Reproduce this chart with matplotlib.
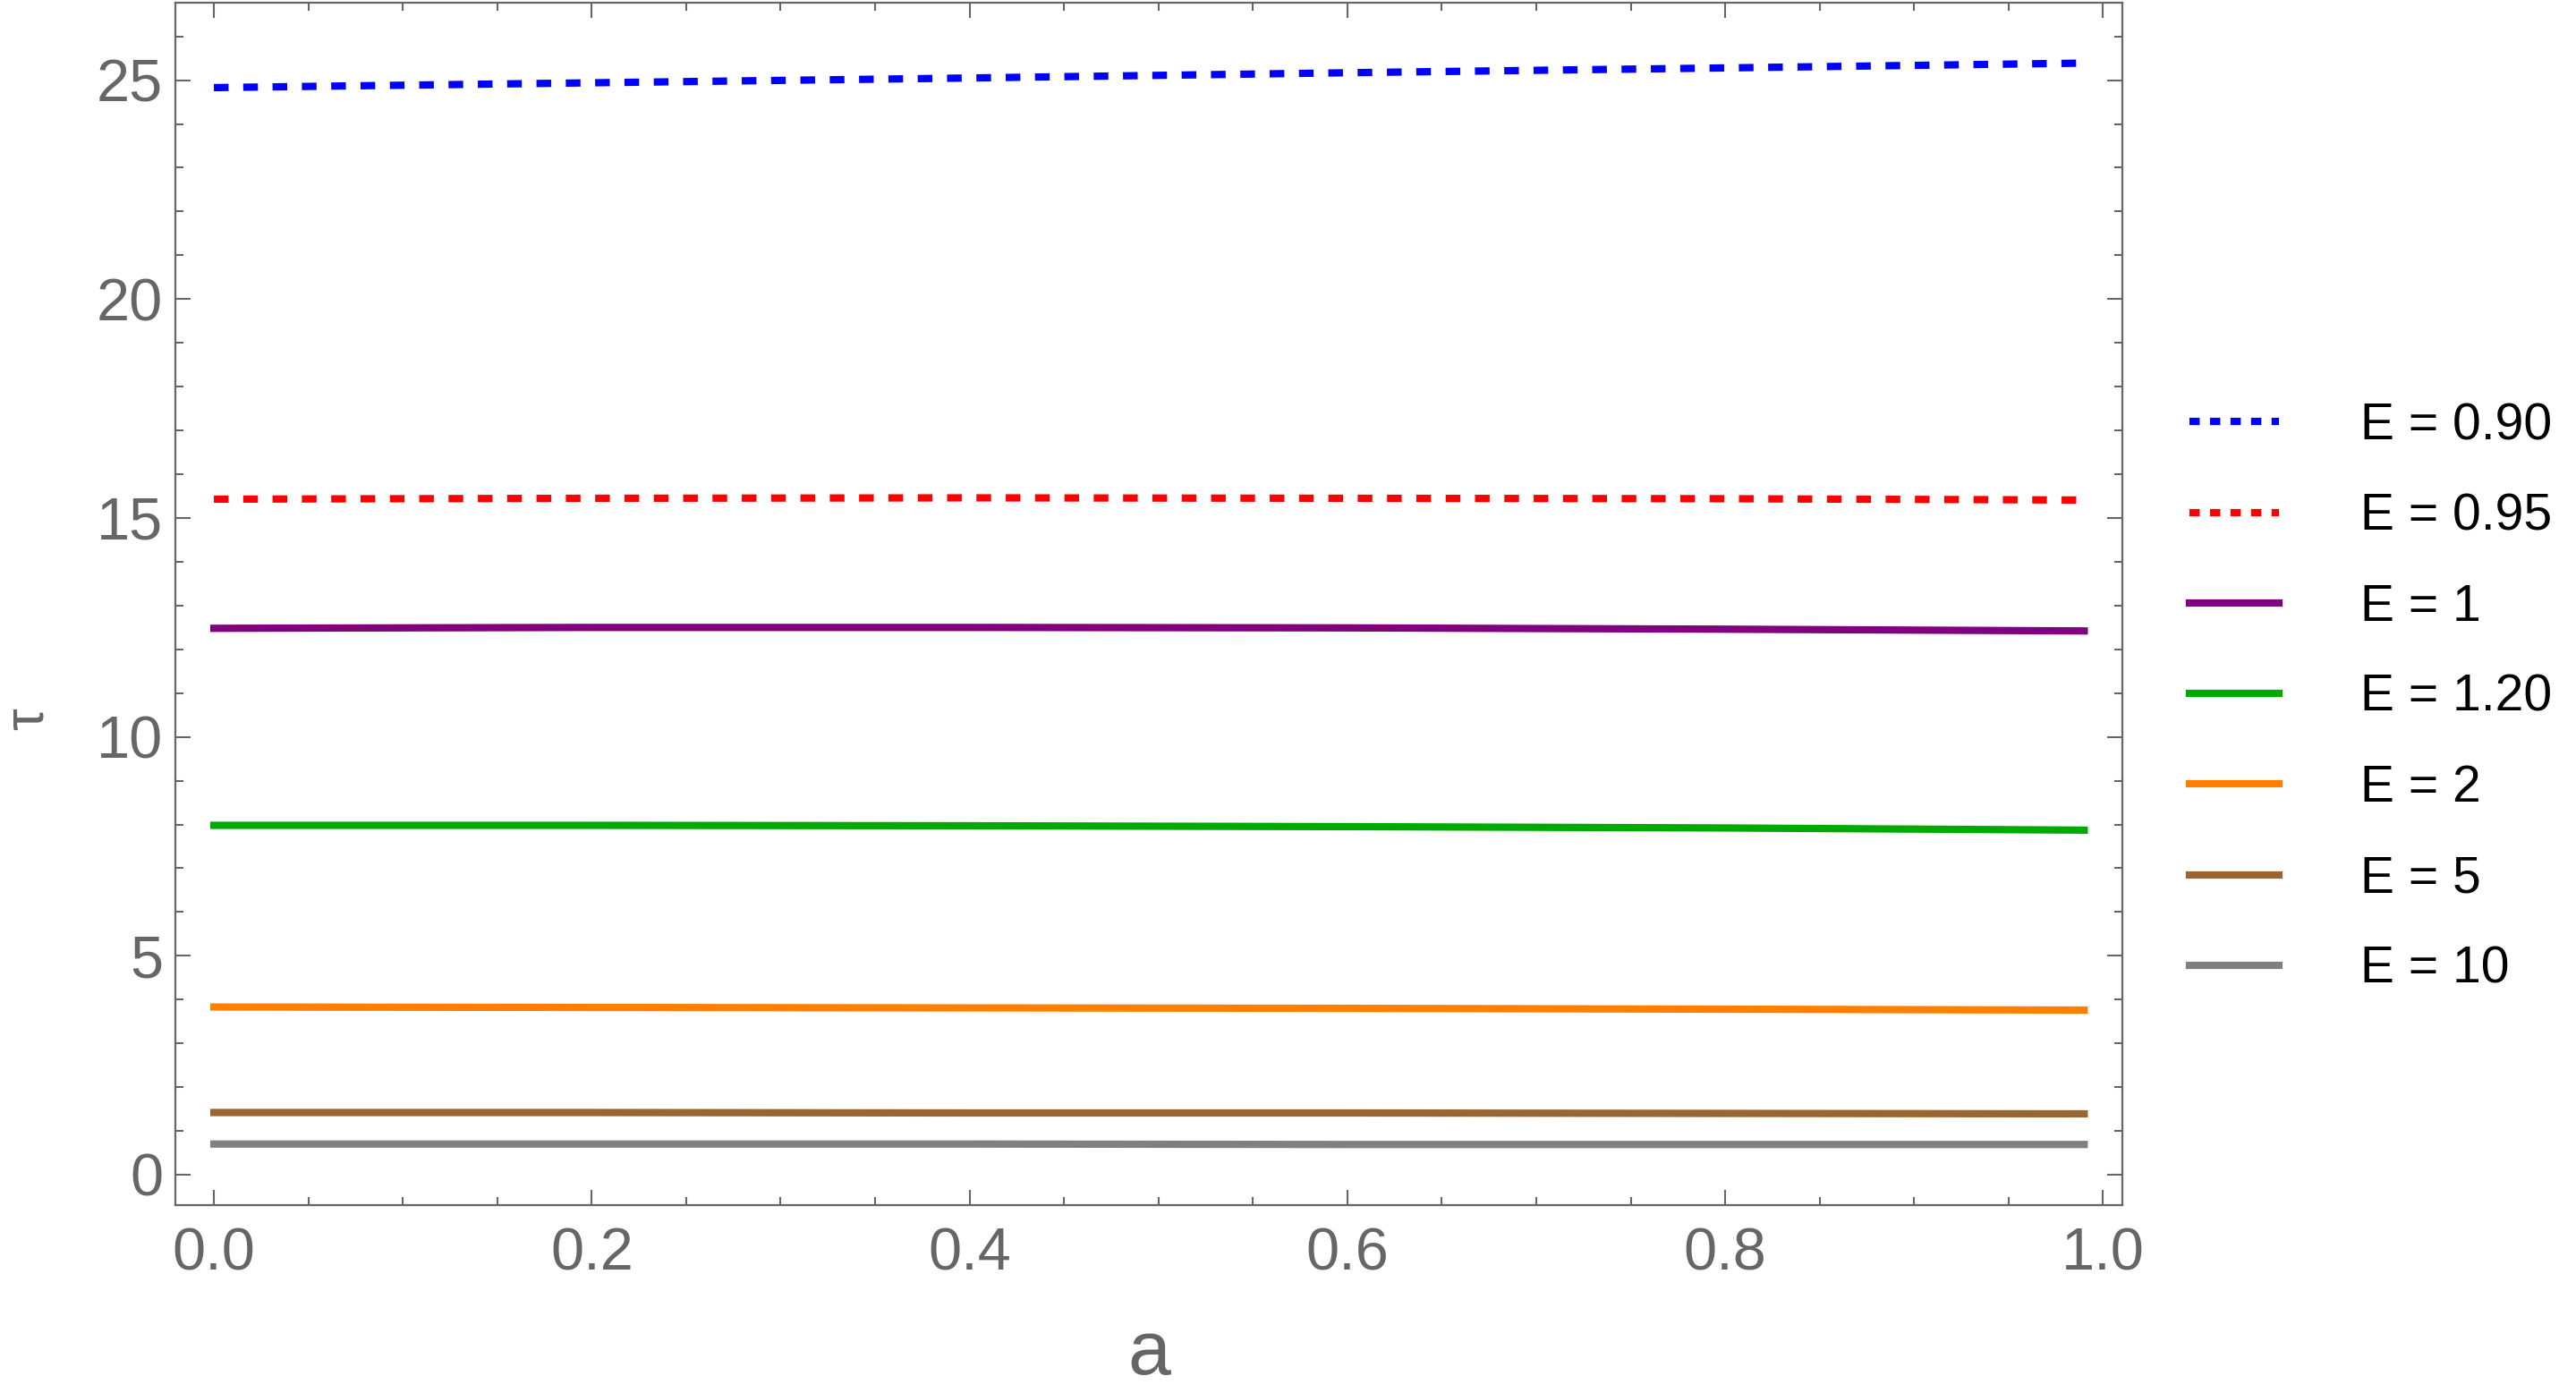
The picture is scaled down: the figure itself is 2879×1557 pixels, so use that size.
import numpy as np
import matplotlib.pyplot as plt
from matplotlib.lines import Line2D
from matplotlib.ticker import MultipleLocator, FormatStrFormatter

# values (tau against a, one curve per energy)
a_vals = [0.0, 0.2, 0.4, 0.6, 0.8, 0.99]
tau_e090 = [24.83, 24.94, 25.05, 25.17, 25.28, 25.39]
tau_e095 = [15.43, 15.45, 15.46, 15.45, 15.44, 15.41]
tau_e1 = [12.48, 12.50, 12.50, 12.49, 12.46, 12.42]
tau_e120 = [7.98, 7.98, 7.97, 7.95, 7.92, 7.87]
tau_e2 = [3.83, 3.82, 3.81, 3.80, 3.78, 3.76]
tau_e5 = [1.42, 1.42, 1.41, 1.41, 1.40, 1.39]
tau_e10 = [0.70, 0.70, 0.70, 0.69, 0.69, 0.69]

labels = ['E = 0.90', 'E = 0.95', 'E = 1', 'E = 1.20', 'E = 2', 'E = 5', 'E = 10']
colors = ['#0000ff', '#ff0000', '#800080', '#00aa00', '#ff8000', '#996633', '#808080']
dashed = [True, True, False, False, False, False, False]
series = [tau_e090, tau_e095, tau_e1, tau_e120, tau_e2, tau_e5, tau_e10]

plt.rcParams['font.family'] = ['Liberation Sans', 'DejaVu Sans']

W, H = 2879, 1557
fig = plt.figure(figsize=(W / 100, H / 100), dpi=100)
# frame from x=196..2372, y=3..1347 (pixels)
ax = fig.add_axes([196 / W, (H - 1347) / H, (2372 - 196) / W, (1347 - 3) / H])

frame_col = '#666666'
lw = 5.9

handles = []
for ys, lab, col, dsh in zip(series, labels, colors, dashed):
    if dsh:
        ax.plot(a_vals, ys, color=col, lw=lw, linestyle=(0, (2.0, 2.0)),
                dash_capstyle='butt')
        # the legend uses a shorter dash than the plot
        handles.append(Line2D([], [], color=col, lw=lw, linestyle=(0, (1.4, 1.4)),
                              dash_capstyle='butt', label=lab))
    else:
        ax.plot(a_vals, ys, color=col, lw=lw, solid_capstyle='projecting')
        handles.append(Line2D([], [], color=col, lw=lw,
                              solid_capstyle='projecting', label=lab))

ax.set_xlim(-0.0204, 1.0102)
ax.set_ylim(-0.695, 26.77)

ax.xaxis.set_major_locator(MultipleLocator(0.2))
ax.xaxis.set_minor_locator(MultipleLocator(0.05))
ax.xaxis.set_major_formatter(FormatStrFormatter('%.1f'))
ax.yaxis.set_major_locator(MultipleLocator(5))
ax.yaxis.set_minor_locator(MultipleLocator(1))

ax.tick_params(which='both', direction='in', top=True, right=True,
               color=frame_col, width=1.5)
ax.tick_params(which='major', length=12.2, labelsize=48, labelcolor=frame_col)
ax.tick_params(which='minor', length=6.5)
ax.tick_params(axis='x', which='major', pad=18)
ax.tick_params(axis='y', which='major', pad=10)

for sp in ax.spines.values():
    sp.set_color(frame_col)
    sp.set_linewidth(1.6)

ax.set_axisbelow(True)
ax.grid(True, which='major', color='#dcdcdc', lw=0.9)
# no grid lines at the frame-side ticks
for t in ax.xaxis.get_major_ticks():
    if abs(t.get_loc()) < 1e-6 or abs(t.get_loc() - 1.0) < 1e-6:
        t.gridline.set_visible(False)
for t in ax.yaxis.get_major_ticks():
    if abs(t.get_loc()) < 1e-6:
        t.gridline.set_visible(False)

fig.text(1284 / W, 1 - 1536 / H, 'a', ha='center', va='baseline',
         fontsize=62, color=frame_col)
fig.text(31 / W, 1 - 804 / H, 'τ', ha='center', va='center', rotation=90,
         fontsize=45, color=frame_col)

ax.legend(handles=handles, loc='center left', bbox_to_anchor=(2447 / W, 1 - 780 / H),
          bbox_transform=fig.transFigure, frameon=False, fontsize=41,
          handlelength=1.75, handletextpad=1.61, labelspacing=0.83,
          borderpad=0, borderaxespad=0)

fig.savefig('out.png', dpi=100)
